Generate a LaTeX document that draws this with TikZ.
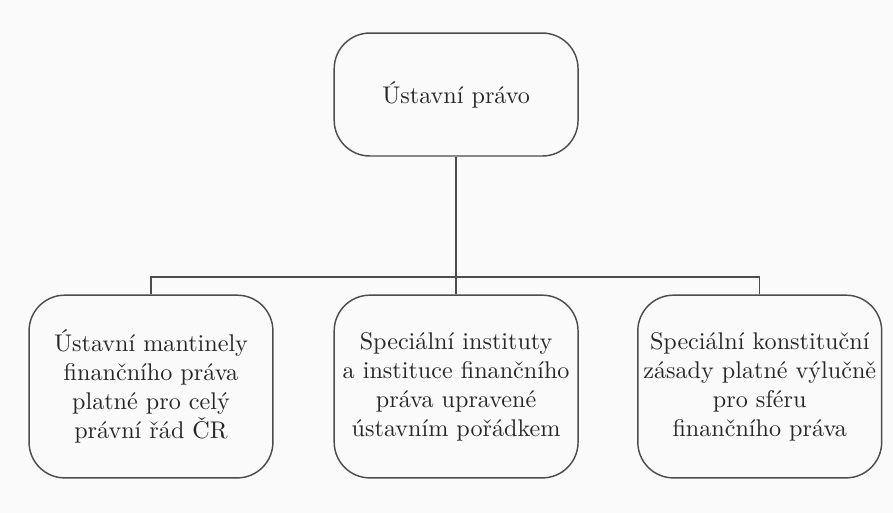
\documentclass[tikz,border=0pt]{standalone}
\usepackage{fontspec}
\usetikzlibrary{positioning}

\begin{document}
\begin{tikzpicture}[x=1cm,y=1cm,every node/.style={inner sep=2pt},
    box/.style={draw=black!70,semithick,rounded corners=0.52cm,
      minimum width=3.55cm,align=center,text=black!85},
    bond/.style={draw=black!70,semithick}]
    \fill[black!2](0,0)rectangle(13,-7.468);
    \node[box,minimum height=1.79cm](pravo)at(6.64,-1.376){Ústavní právo};
    \node[box,minimum height=2.66cm](mantinely)at(2.198,-5.627)
      {Ústavní mantinely\\finančního práva\\platné pro celý\\právní řád ČR};
    \node[box,minimum height=2.66cm](instituty)at(6.64,-5.627)
      {Speciální instituty\\a instituce finančního\\práva upravené\\ústavním pořádkem};
    \node[box,minimum height=2.66cm](zasady)at(11.06,-5.627)
      {Speciální konstituční\\zásady platné výlučně\\pro sféru\\finančního práva};
    \coordinate(bus)at(6.64,-4.03);
    \draw[bond](pravo.south)--(bus);
    \draw[bond](mantinely.north)|-(bus)-|(zasady.north);
    \draw[bond](instituty.north)--(instituty.north|-bus);
  \end{tikzpicture}
\end{document}
